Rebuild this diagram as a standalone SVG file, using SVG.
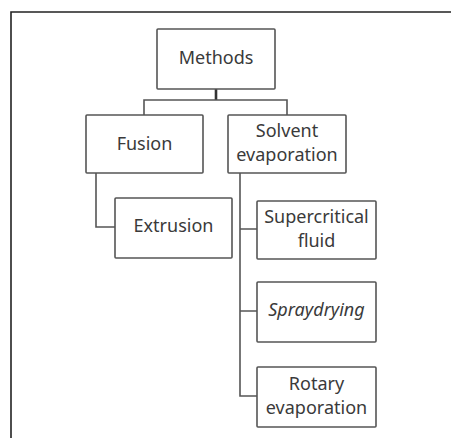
<svg xmlns="http://www.w3.org/2000/svg" width="451" height="438" viewBox="0 0 451 438">
<style>
.box{fill:#fff;stroke:#555;stroke-width:1.6}
.t{font-family:"Noto Sans","Open Sans",sans-serif;font-size:18px;fill:#3a3a3a;text-anchor:middle}
.c{fill:none;stroke:#555;stroke-width:1.6}
</style>
<rect width="451" height="438" fill="#fff"/>
<path d="M11 438 V12 H451" fill="none" stroke="#222" stroke-width="1.6"/>
<g id="connectors">
<path class="c" d="M216 89 V100" stroke-width="2.6" style="stroke:#333;stroke-width:2.6"/>
<path class="c" d="M144 115 V100 H287 V115"/>
<path class="c" d="M96 173 V227 H115"/>
<path class="c" d="M240 173 V396 H257 M240 229 H257 M240 311 H257"/>
</g>
<g id="methods"><rect class="box" x="157" y="29" width="118" height="60" rx="1"/><text class="t" x="216" y="64">Methods</text></g>
<g id="fusion"><rect class="box" x="86" y="115" width="117" height="58" rx="1"/><text class="t" x="144.5" y="150">Fusion</text></g>
<g id="solvent"><rect class="box" x="228" y="115" width="118" height="58" rx="1"/><text class="t" x="287" y="137">Solvent</text><text class="t" x="287" y="161">evaporation</text></g>
<g id="extrusion"><rect class="box" x="115" y="198" width="117" height="60" rx="1"/><text class="t" x="173.5" y="232">Extrusion</text></g>
<g id="supercritical"><rect class="box" x="257" y="201" width="119" height="58" rx="1"/><text class="t" x="316.5" y="223">Supercritical</text><text class="t" x="316.5" y="247">fluid</text></g>
<g id="spraydrying"><rect class="box" x="257" y="282" width="119" height="60" rx="1"/><text class="t" x="316.5" y="316" font-style="italic">Spraydrying</text></g>
<g id="rotary"><rect class="box" x="257" y="367" width="119" height="60" rx="1"/><text class="t" x="316.5" y="390">Rotary</text><text class="t" x="316.5" y="414">evaporation</text></g>
</svg>
